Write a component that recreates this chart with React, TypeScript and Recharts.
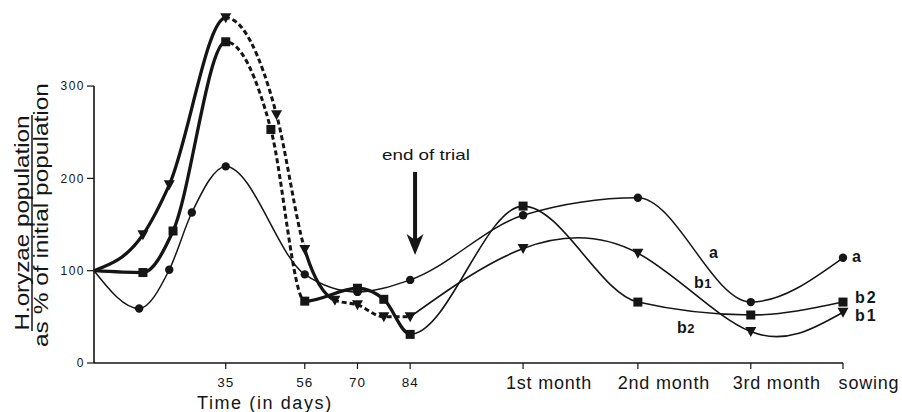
import React from 'react';
import { LineChart, Line, XAxis, YAxis, ReferenceLine, ReferenceDot } from 'recharts';

// Sampling days (day 0 = start of trial); the post-trial samples are one month apart.
const aDays = [0, 12, 20, 26, 35, 56, 70, 84, 114, 144.5, 174.5, 199];
const aValues = [100, 59, 101, 163, 213, 96, 77, 90, 160, 179, 66, 114];

const b1Days = [0, 13, 20, 35, 48.5, 56, 64, 70, 77, 84, 114, 144.5, 174.5, 199];
const b1Values = [100, 139, 193, 374, 269, 123, 68, 63, 50, 50, 124, 119, 34, 55];

const b2Days = [0, 13, 21, 35, 47, 56, 70, 77, 84, 114, 144.5, 174.5, 199];
const b2Values = [100, 98, 143, 348, 253, 67, 81, 69, 31, 170, 66, 52, 66];

const xTickValues = [35, 56, 70, 84, 114, 144.5, 174.5, 199];
const xTickLabels = ['35', '56', '70', '84', '1st month', '2nd month', '3rd month', 'sowing'];
const yTickValues = [0, 100, 200, 300];

const TRIAL_END_DAY = 84;

// Line style of each stretch of the b-curves (day ranges).
type StrokeStyle = 'thick' | 'dashed' | 'thin';
type Segment = { from: number; to: number; style: StrokeStyle };
const b1Segments: Segment[] = [
  { from: 0, to: 35, style: 'thick' },
  { from: 35, to: 56, style: 'dashed' },
  { from: 56, to: 64, style: 'thick' },
  { from: 64, to: 84, style: 'dashed' },
];
const b2Segments: Segment[] = [
  { from: 0, to: 35, style: 'thick' },
  { from: 35, to: 56, style: 'dashed' },
  { from: 56, to: 84, style: 'thick' },
  { from: 84, to: 199, style: 'thin' },
];

// Curve labels, placed in data units (day, % of initial population).
const seriesLabels = [
  { text: 'a', sub: '', day: 163.4, value: 120, wide: false },
  { text: 'b', sub: '1', day: 159.4, value: 87, wide: false },
  { text: 'b', sub: '2', day: 154.9, value: 38, wide: false },
  { text: 'a', sub: '', day: 201.4, value: 115, wide: true },
  { text: 'b', sub: '2', day: 202.2, value: 71, wide: true },
  { text: 'b', sub: '1', day: 202.2, value: 52, wide: true },
];

// "end of trial" pointer, in data units.
const trialNote = { day: 85.3, textDay: 76.5, textValue: 220, shaftTop: 207, shaftEnd: 131, tip: 117 };

const INK = '#151515';
const FONT = '"Liberation Sans", Arial, sans-serif';

const CHART_WIDTH = 902;
const CHART_HEIGHT = 412;
const PLOT_LEFT = 94;
const PLOT_RIGHT = 843;
const PLOT_TOP = 3;
const PLOT_BOTTOM = 363;
const X_DOMAIN: [number, number] = [0, 199];
const Y_DOMAIN: [number, number] = [0, 390];

const toRows = (days: number[], values: number[]) => days.map((day, i) => ({ day, value: values[i] }));

const aRows = toRows(aDays, aValues);
const b1Rows = toRows(b1Days, b1Values);
const b2Rows = toRows(b2Days, b2Values);
const trialEndIndex = b1Days.indexOf(TRIAL_END_DAY);
const b1AfterTrialRows = toRows(b1Days.slice(trialEndIndex), b1Values.slice(trialEndIndex));

const STROKES: Record<StrokeStyle, { strokeWidth: number; strokeDasharray?: string }> = {
  thick: { strokeWidth: 3.3 },
  dashed: { strokeWidth: 3, strokeDasharray: '5 3' },
  thin: { strokeWidth: 1.6 },
};

const dayToPx = (day: number) =>
  PLOT_LEFT + ((day - X_DOMAIN[0]) / (X_DOMAIN[1] - X_DOMAIN[0])) * (PLOT_RIGHT - PLOT_LEFT);

const clipId = (from: number, to: number) => `stretch-${String(from).replace('.', '_')}-${String(to).replace('.', '_')}`;

const allSegments = [...b1Segments, ...b2Segments];
const clipRanges = allSegments.filter(
  (s, i) => allSegments.findIndex((o) => o.from === s.from && o.to === s.to) === i
);

const renderMarker = (shape: 'circle' | 'square' | 'triangle') => (props: any) => {
  const { cx, cy, index } = props;
  const key = `${shape}-${index}`;
  if (index === 0 || cx == null || cy == null) return <g key={key} />;
  if (shape === 'circle') return <circle key={key} cx={cx} cy={cy} r={4.2} fill={INK} />;
  if (shape === 'square') return <rect key={key} x={cx - 4.5} y={cy - 4.5} width={9} height={9} fill={INK} />;
  return <path key={key} d={`M${cx - 5.5},${cy - 4.5} L${cx + 5.5},${cy - 4.5} L${cx},${cy + 5.5} Z`} fill={INK} />;
};

const renderSegments = (name: string, rows: { day: number; value: number }[], segments: Segment[]) =>
  segments.map((seg) => (
    <Line
      key={`${name}-${seg.from}-${seg.to}`}
      data={rows}
      dataKey="value"
      type="monotone"
      stroke={INK}
      {...STROKES[seg.style]}
      dot={false}
      activeDot={false}
      legendType="none"
      isAnimationActive={false}
      style={{ clipPath: `url(#${clipId(seg.from, seg.to)})` }}
    />
  ));

const XTick = (props: any) => {
  const { x, y, payload } = props;
  const i = xTickValues.indexOf(payload.value);
  const label = i >= 0 ? xTickLabels[i] : String(payload.value);
  if (label.length > 2) {
    return (
      <text x={x + 26} y={y + 18} textAnchor="middle" fontSize={18} letterSpacing={0.8} fontFamily={FONT} fill={INK}>
        {label}
      </text>
    );
  }
  return (
    <text x={x} y={y + 16} textAnchor="middle" fontSize={13.5} letterSpacing={1} fontFamily={FONT} fill={INK}>
      {label}
    </text>
  );
};

const YTitle = (props: any) => {
  const vb = props.viewBox ?? { x: 0, y: PLOT_TOP };
  const x1 = vb.x + 29;
  const y1 = vb.y + 220;
  const x2 = vb.x + 48;
  const y2 = vb.y + 212;
  return (
    <g fill={INK} fontFamily={FONT} fontSize={20}>
      <text x={x1} y={y1} transform={`rotate(-90 ${x1} ${y1})`} textAnchor="middle" textLength={215} lengthAdjust="spacingAndGlyphs">
        H.oryzae population
      </text>
      <line x1={vb.x + 32} x2={vb.x + 32} y1={y1 - 108} y2={y1 + 108} stroke={INK} strokeWidth={1.5} />
      <text x={x2} y={y2} transform={`rotate(-90 ${x2} ${y2})`} textAnchor="middle" textLength={264} lengthAdjust="spacingAndGlyphs">
        as % of initial population
      </text>
    </g>
  );
};

const XTitle = (props: any) => {
  const vb = props.viewBox ?? { x: PLOT_LEFT, y: PLOT_BOTTOM };
  return (
    <text x={vb.x + 103} y={vb.y + 46} fontSize={18} letterSpacing={1.6} fontFamily={FONT} fill={INK}>
      Time (in days)
    </text>
  );
};

const ArrowHead = (props: any) => {
  const { cx, cy } = props;
  return <path d={`M${cx},${cy} L${cx - 8.5},${cy - 21} L${cx},${cy - 15} L${cx + 8.5},${cy - 21} Z`} fill={INK} />;
};

const TrialText = (props: any) => {
  const { cx, cy } = props;
  return (
    <text x={cx} y={cy} fontSize={15} fontFamily={FONT} fill={INK} textLength={88} lengthAdjust="spacingAndGlyphs">
      end of trial
    </text>
  );
};

const makeSeriesLabel = (label: (typeof seriesLabels)[number]) => (props: any) => {
  const { cx, cy } = props;
  return (
    <text
      x={cx}
      y={cy}
      dominantBaseline="central"
      fontFamily={FONT}
      fontWeight="bold"
      fontSize={16}
      letterSpacing={label.wide ? 2 : 0.5}
      fill={INK}
    >
      {label.text}
      {label.sub ? <tspan fontSize={label.wide ? 16 : 13}>{label.sub}</tspan> : null}
    </text>
  );
};

export default function App() {
  return (
    <div style={{ position: 'absolute', left: 0, top: 0, width: CHART_WIDTH, height: CHART_HEIGHT, background: '#fff' }}>
      <svg width={0} height={0} style={{ position: 'absolute' }} aria-hidden>
        <defs>
          {clipRanges.map((r) => {
            const left = r.from <= X_DOMAIN[0] ? 0 : dayToPx(r.from);
            const right = r.to >= X_DOMAIN[1] ? CHART_WIDTH : dayToPx(r.to);
            return (
              <clipPath key={clipId(r.from, r.to)} id={clipId(r.from, r.to)} clipPathUnits="userSpaceOnUse">
                <rect x={left} y={0} width={right - left} height={CHART_HEIGHT} />
              </clipPath>
            );
          })}
        </defs>
      </svg>
      <LineChart
        width={CHART_WIDTH}
        height={CHART_HEIGHT}
        margin={{ top: PLOT_TOP, right: CHART_WIDTH - PLOT_RIGHT, bottom: 0, left: 0 }}
      >
        <XAxis
          type="number"
          dataKey="day"
          domain={X_DOMAIN}
          ticks={xTickValues}
          interval={0}
          height={CHART_HEIGHT - PLOT_BOTTOM}
          axisLine={{ stroke: INK, strokeWidth: 1.6 }}
          tickLine={{ stroke: INK, strokeWidth: 1.2 }}
          tickSize={6}
          tick={<XTick />}
          label={XTitle}
        />
        <YAxis
          type="number"
          domain={Y_DOMAIN}
          ticks={yTickValues}
          interval={0}
          width={PLOT_LEFT}
          axisLine={false}
          tickLine={{ stroke: INK, strokeWidth: 1.2 }}
          tickSize={7}
          tick={{ fontSize: 12, fill: INK, fontFamily: FONT, letterSpacing: 1.5 }}
          label={YTitle}
        />
        <ReferenceLine segment={[{ x: 0, y: 0 }, { x: 0, y: 300 }]} stroke={INK} strokeWidth={1.6} ifOverflow="visible" />

        <Line
          data={aRows}
          dataKey="value"
          type="monotone"
          stroke={INK}
          strokeWidth={1.5}
          dot={renderMarker('circle')}
          activeDot={false}
          isAnimationActive={false}
        />
        {renderSegments('b1', b1Rows, b1Segments)}
        <Line
          data={b1AfterTrialRows}
          dataKey="value"
          type="natural"
          stroke={INK}
          {...STROKES.thin}
          dot={false}
          activeDot={false}
          isAnimationActive={false}
        />
        {renderSegments('b2', b2Rows, b2Segments)}
        <Line data={b1Rows} dataKey="value" stroke="none" dot={renderMarker('triangle')} activeDot={false} isAnimationActive={false} />
        <Line data={b2Rows} dataKey="value" stroke="none" dot={renderMarker('square')} activeDot={false} isAnimationActive={false} />

        <ReferenceLine
          segment={[{ x: trialNote.day, y: trialNote.shaftTop }, { x: trialNote.day, y: trialNote.shaftEnd }]}
          stroke={INK}
          strokeWidth={4}
        />
        <ReferenceDot x={trialNote.day} y={trialNote.tip} r={0} shape={ArrowHead} ifOverflow="visible" />
        <ReferenceDot x={trialNote.textDay} y={trialNote.textValue} r={0} shape={TrialText} ifOverflow="visible" />

        {seriesLabels.map((l, i) => (
          <ReferenceDot key={`label-${i}`} x={l.day} y={l.value} r={0} shape={makeSeriesLabel(l)} ifOverflow="visible" />
        ))}
      </LineChart>
    </div>
  );
}
